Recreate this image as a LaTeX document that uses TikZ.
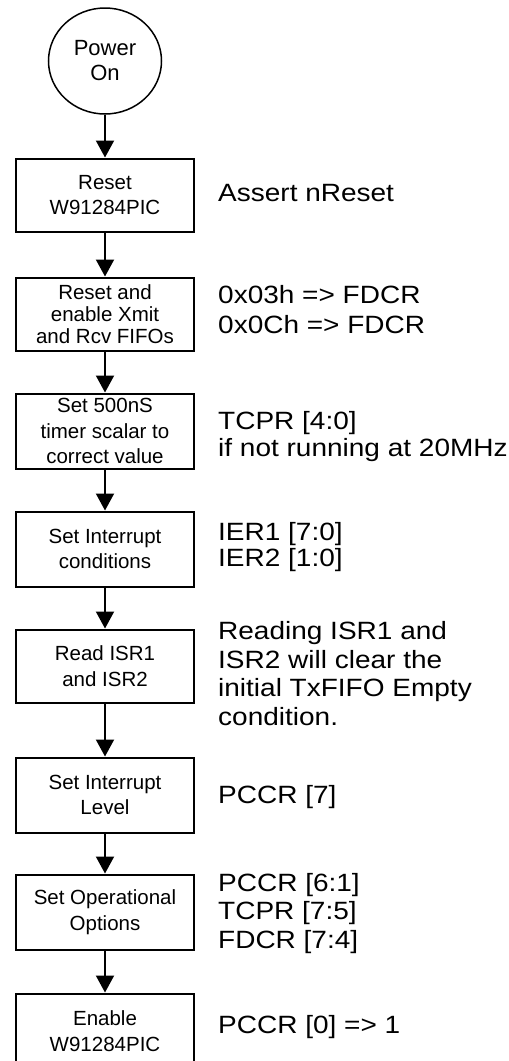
\documentclass[tikz,border=0pt]{standalone}
\usepackage{fontspec}
\setmainfont{Liberation Sans}
\newfontfamily\notefont{Liberation Sans}[FakeStretch=1.12]
\usepackage{tikz}
\usetikzlibrary{arrows.meta,shapes.geometric,positioning}

\begin{document}
\begin{tikzpicture}[x=1pt,y=-1pt]
                    \tikzstyle{every node}+=[inner sep=0pt]
                    \tikzstyle{stepbox}=[draw, line width=2pt, minimum width=178pt, minimum height=73pt, align=center, font=\fontsize{20.5}{25.5}\selectfont]
                    \tikzstyle{note}=[anchor=base west, align=left, font=\notefont\fontsize{25}{28.5}\selectfont]
                    \tikzstyle{flow}=[line width=2pt, -{Triangle[width=18pt,length=17pt]}]
                    \useasboundingbox (0,0) rectangle (509,1061);
                    \node [draw, ellipse, line width=1.5pt, minimum width=113pt, minimum height=106pt, align=center, font=\fontsize{22}{25}\selectfont] (power) at (105,61) {Power\\On};
                    \node [stepbox] (reset) at (105,195) {Reset\\W91284PIC};
                    \node [stepbox, font=\fontsize{20.5}{22}\selectfont] (fifo) at (105,314) {Reset and\\enable Xmit\\and Rcv FIFOs};
                    \node [stepbox, minimum height=75pt] (timer) at (105,431) {Set 500nS\\timer scalar to\\correct value};
                    \node [stepbox, minimum height=75pt] (intcond) at (105,549) {Set Interrupt\\conditions};
                    \node [stepbox] (readisr) at (105,666) {Read ISR1\\and ISR2};
                    \node [stepbox, minimum height=75pt] (intlevel) at (105,795) {Set Interrupt\\Level};
                    \node [stepbox, minimum height=75pt] (options) at (105,912) {Set Operational\\Options};
                    \node [stepbox, minimum height=75pt] (enable) at (105,1031) {Enable\\W91284PIC};
                    \draw [flow] (power) -- (reset);
                    \draw [flow] (reset) -- (fifo);
                    \draw [flow] (fifo) -- (timer);
                    \draw [flow] (timer) -- (intcond);
                    \draw [flow] (intcond) -- (readisr);
                    \draw [flow] (readisr) -- (intlevel);
                    \draw [flow] (intlevel) -- (options);
                    \draw [flow] (options) -- (enable);
                    % register notes (anchored at the last baseline)
                    \node [note] (resetnote) at (218,201.7) {Assert nReset};
                    \node [note, font=\notefont\fontsize{25}{30}\selectfont] (fifonote) at (218,333.3) {0x03h => FDCR\\0x0Ch => FDCR};
                    \node [note, font=\notefont\fontsize{25}{26.7}\selectfont] (timernote) at (218,456) {TCPR [4:0]\\if not running at 20MHz};
                    \node [note, font=\notefont\fontsize{25}{26.7}\selectfont] (intcondnote) at (218,566.7) {IER1 [7:0]\\IER2 [1:0]};
                    \node [note] (readisrnote) at (218,725) {Reading ISR1 and\\ISR2 will clear the\\initial TxFIFO Empty\\condition.};
                    \node [note] (intlevelnote) at (218,803) {PCCR [7]};
                    \node [note] (optionsnote) at (218,948.3) {PCCR [6:1]\\TCPR [7:5]\\FDCR [7:4]};
                    \node [note] (enablenote) at (218,1033.3) {PCCR [0] => 1};
                \end{tikzpicture}
\end{document}
